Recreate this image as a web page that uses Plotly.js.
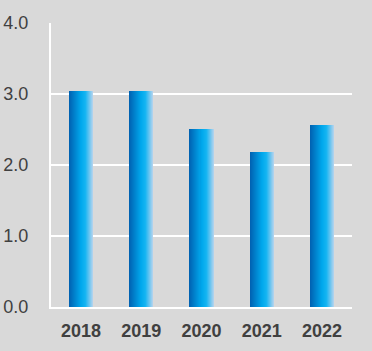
<!DOCTYPE html>
<html><head><meta charset="utf-8">
<script src="https://cdn.plot.ly/plotly-3.0.1.min.js"></script>
<style>html,body{margin:0;padding:0;background:#d9d9d9}#chart{width:372px;height:351px}</style>
</head><body><div id="chart"></div>
<script>
// Data
var years = ['2018', '2019', '2020', '2021', '2022'];
var values = [3.04, 3.04, 2.51, 2.18, 2.56];
var yTickVals = [0, 1, 2, 3, 4];
var yTickText = ['0.0', '1.0', '2.0', '3.0', '4.0'];

// Horizontal gradient of each bar, built from thin overlaid strips
var stops = [[0, [0, 96, 176]], [0.5, [0, 168, 236]], [0.68, [20, 180, 242]], [1, [184, 212, 238]]];
function colorAt(t) {
  for (var i = 1; i < stops.length; i++) {
    if (t <= stops[i][0]) {
      var a = stops[i - 1], b = stops[i];
      var f = (t - a[0]) / (b[0] - a[0]);
      var c = a[1].map(function (v, k) { return Math.round(v + (b[1][k] - v) * f); });
      return 'rgb(' + c.join(',') + ')';
    }
  }
  return 'rgb(' + stops[stops.length - 1][1].join(',') + ')';
}
var barWidth = 0.4, nStrips = 24, step = barWidth / nStrips;
var traces = [];
for (var i = 0; i < nStrips; i++) {
  traces.push({
    type: 'bar', x: years, y: values,
    width: (i === nStrips - 1) ? step : step * 1.4,
    offset: -barWidth / 2 + i * step,
    marker: {color: colorAt((i + 0.5) / nStrips), line: {width: 0}},
    hoverinfo: 'skip', showlegend: false
  });
}

var layout = {
  width: 372, height: 351,
  margin: {l: 51, r: 20, t: 23, b: 44},
  paper_bgcolor: '#d9d9d9', plot_bgcolor: '#d9d9d9',
  barmode: 'overlay', bargap: 0,
  font: {family: 'Liberation Sans, Arial, sans-serif', color: '#404040'},
  xaxis: {
    type: 'category', showgrid: false, showline: true, linecolor: '#ffffff', linewidth: 2,
    ticks: '', tickfont: {size: 18, color: '#404040', family: 'Liberation Sans, Arial, sans-serif', weight: 'bold'},
    ticklabelstandoff: 6, zeroline: false, fixedrange: true
  },
  yaxis: {
    range: [0, 4], tickvals: yTickVals, ticktext: yTickText,
    showgrid: true, gridcolor: '#ffffff', gridwidth: 2,
    showline: true, linecolor: '#ffffff', linewidth: 2, zeroline: false,
    ticks: '', tickfont: {size: 18, color: '#404040'}, ticklabelstandoff: 17, fixedrange: true
  }
};
Plotly.newPlot('chart', traces, layout, {displayModeBar: false, staticPlot: true});
</script></body></html>
